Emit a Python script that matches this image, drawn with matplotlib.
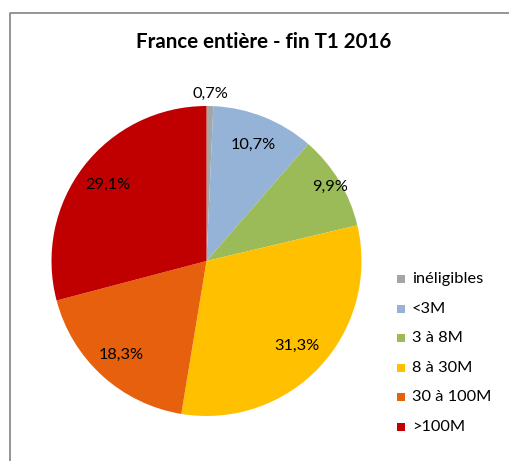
import numpy as np
import matplotlib
matplotlib.use("Agg")
import matplotlib.pyplot as plt

plt.rcParams['font.family'] = ['Lato', 'DejaVu Sans']

# données (en %)
categories = ['inéligibles', '<3M', '3 à 8M', '8 à 30M', '30 à 100M', '>100M']
parts = [0.7, 10.7, 9.9, 31.3, 18.3, 29.1]
couleurs = ['#A5A5A5', '#95B3D7', '#9BBB59', '#FFC000', '#E6600E', '#C00000']
# distance radiale des étiquettes (fraction du rayon)
dist_labels = [1.08, 0.81, 0.93, 0.80, 0.82, 0.80]

W, H = 509, 461
fig = plt.figure(figsize=(W / 100, H / 100), dpi=100)
ax = fig.add_axes([0, 0, 1, 1])

cx, cy, R = 206.5, H - 261, 155
wedges, _ = ax.pie(parts, colors=couleurs, startangle=90, counterclock=False,
                   radius=R, center=(cx, cy), frame=True,
                   wedgeprops=dict(linewidth=0))
ax.set_xlim(0, W)
ax.set_ylim(0, H)
ax.set_aspect('equal')
ax.axis('off')

# cadre gris
ax.plot([10, 10, W], [0, H - 13.5, H - 13.5], color='#8C8C8C', lw=1.3)

for w, v, d in zip(wedges, parts, dist_labels):
    ang = np.radians((w.theta1 + w.theta2) / 2)
    x = cx + d * R * np.cos(ang)
    y = cy + d * R * np.sin(ang)
    ax.text(x, y, f'{v:.1f}%'.replace('.', ','), ha='center', va='center',
            fontsize=11.8, color='black')

ax.text(264, H - 42, 'France entière - fin T1 2016', ha='center', va='center',
        fontsize=14.8, fontweight='bold')

# légende
for i, (c, lab) in enumerate(zip(couleurs, categories)):
    y = H - (279 + i * 29.6)
    ax.add_patch(plt.Rectangle((397, y - 4), 8, 8, color=c, lw=0))
    ax.text(412, y, lab, ha='left', va='center', fontsize=11.8)

fig.savefig('out.png', dpi=100)
